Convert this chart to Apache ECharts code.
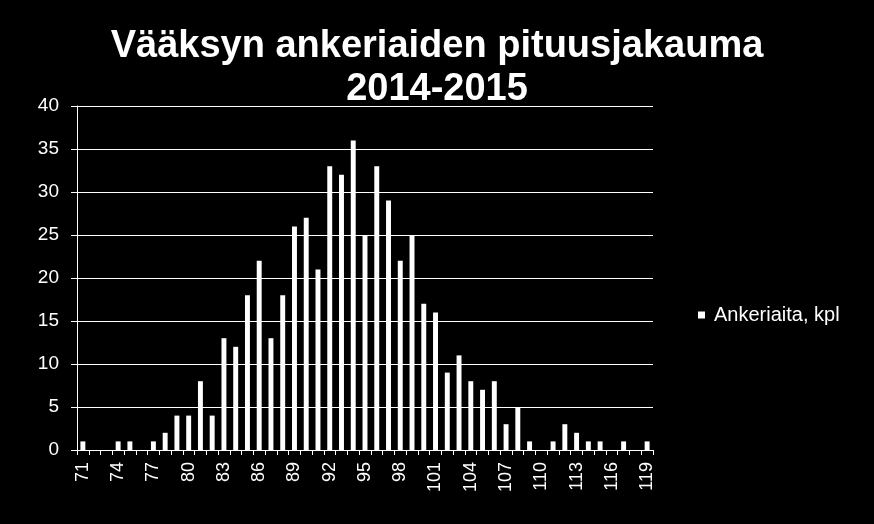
<!DOCTYPE html>
<html>
<head>
<meta charset="utf-8">
<script src="https://cdn.jsdelivr.net/npm/echarts@6/dist/echarts.min.js"></script>
<style>
html,body{margin:0;padding:0;background:#000;}
#chart{width:874px;height:524px;}
</style>
</head>
<body>
<div id="chart"></div>
<script>
const titleLine1 = "Vääksyn ankeriaiden pituusjakauma";
const titleLine2 = "2014-2015";
const seriesName = "Ankeriaita, kpl";
const categories = [];
for (let c = 71; c <= 119; c++) categories.push(String(c));
const counts = [
  1, 0, 0, 1, 1, 0, 1, 2, 4, 4,
  8, 4, 13, 12, 18, 22, 13, 18, 26, 27,
  21, 33, 32, 36, 25, 33, 29, 22, 25, 17,
  16, 9, 11, 8, 7, 8, 3, 5, 1, 0,
  1, 3, 2, 1, 1, 0, 1, 0, 1
];
const yTicks = [0, 5, 10, 15, 20, 25, 30, 35, 40];

const font = "'Liberation Sans', Arial, sans-serif";
const chart = echarts.init(document.getElementById('chart'), null, {renderer: 'canvas'});
chart.setOption({
  backgroundColor: '#000',
  animation: false,
  title: {
    text: titleLine1 + "\n" + titleLine2,
    left: 'center',
    top: 20,
    textStyle: {
      color: '#fff',
      fontFamily: font,
      fontWeight: 'bold',
      fontSize: 38,
      lineHeight: 43
    }
  },
  legend: {
    left: 693,
    top: 300,
    orient: 'vertical',
    icon: 'rect',
    itemWidth: 7,
    itemHeight: 7,
    textStyle: {color: '#fff', fontFamily: font, fontSize: 20, padding: [0, 0, 0, 4]},
    data: [seriesName]
  },
  grid: {left: 77, right: 221, top: 106, bottom: 74, containLabel: false},
  xAxis: {
    type: 'category',
    data: categories,
    boundaryGap: true,
    axisLine: {lineStyle: {color: '#fff', width: 1}},
    axisTick: {show: true, alignWithLabel: false, interval: 0, length: 5, lineStyle: {color: '#fff'}},
    axisLabel: {
      interval: 2,
      rotate: 90,
      margin: 12,
      color: '#fff',
      fontFamily: font,
      fontSize: 18
    },
    splitLine: {show: false}
  },
  yAxis: {
    type: 'value',
    min: yTicks[0],
    max: yTicks[yTicks.length - 1],
    interval: 5,
    axisLine: {show: true, lineStyle: {color: '#fff', width: 1}},
    axisTick: {show: true, length: 6, lineStyle: {color: '#fff'}},
    axisLabel: {color: '#fff', fontFamily: font, fontSize: 19, margin: 18},
    splitLine: {show: true, lineStyle: {color: '#fff', width: 1}}
  },
  series: [{
    name: seriesName,
    type: 'bar',
    data: counts,
    barWidth: '42%',
    itemStyle: {color: '#fff'}
  }]
});
</script>
</body>
</html>
